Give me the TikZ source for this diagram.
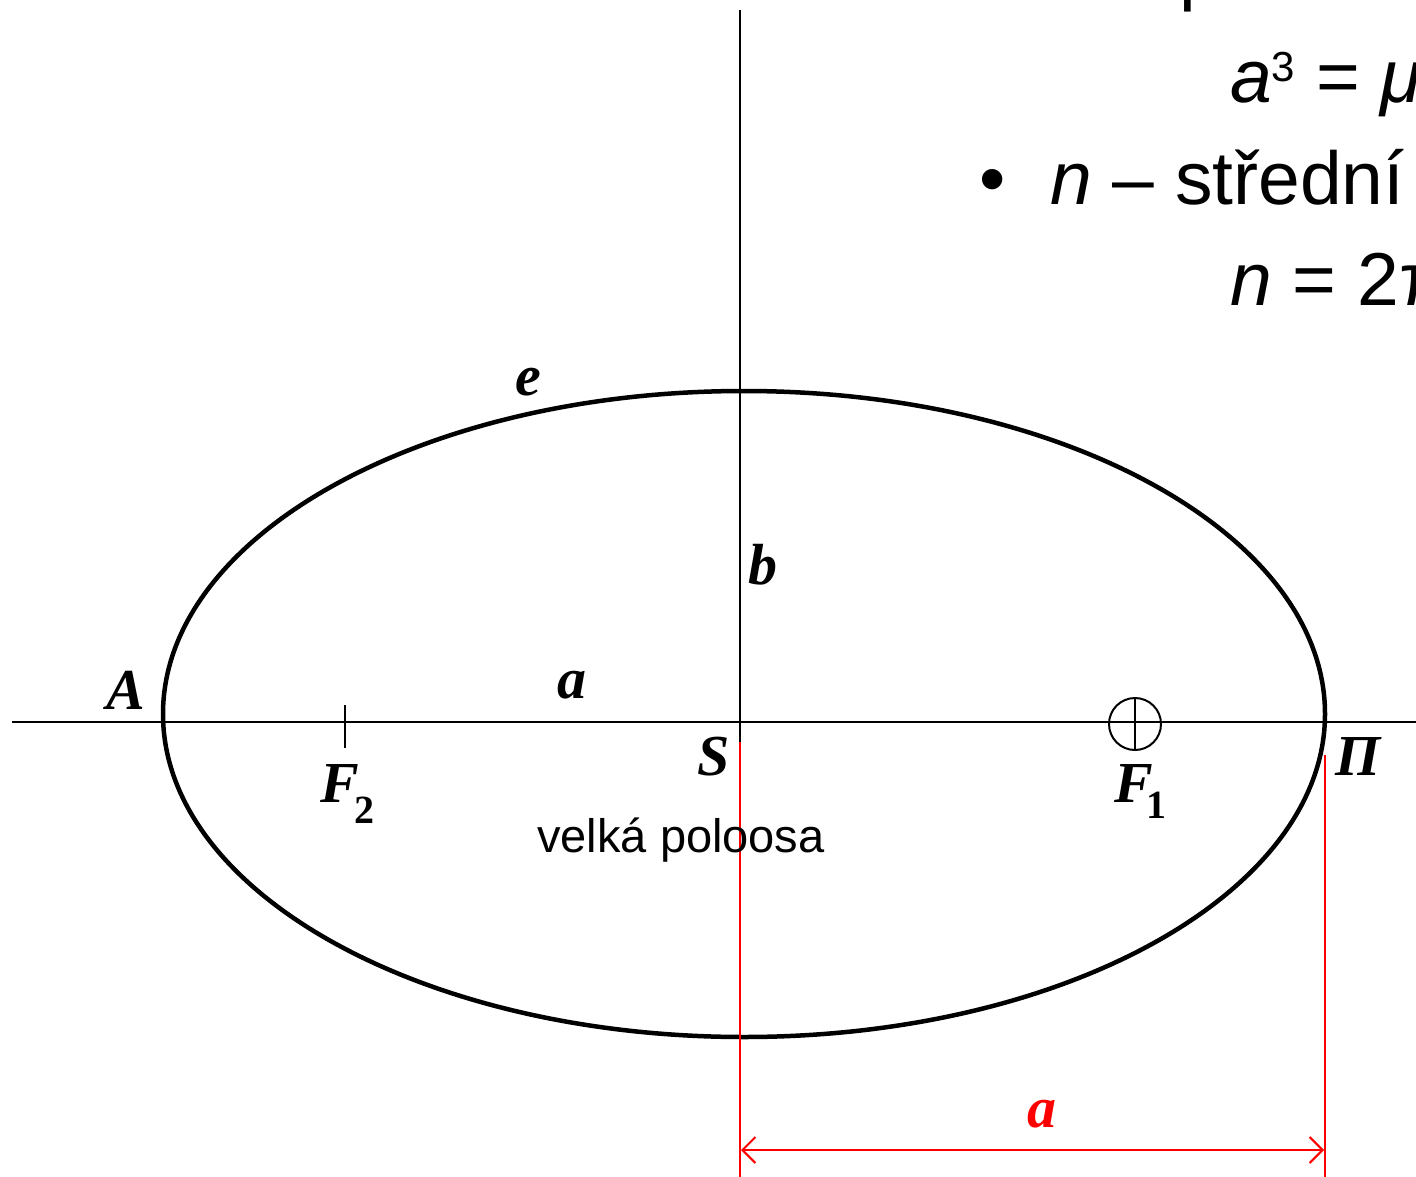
\documentclass[tikz,border=0pt]{standalone}
\usepackage{fontspec}
\setmainfont{Liberation Sans}
\newfontfamily\tnr{Liberation Serif}
\usetikzlibrary{arrows.meta}
\tikzset{
  axisline/.style={line width=2pt, black},
  orbit/.style={line width=4.5pt, black},
  redline/.style={line width=2pt, red},
  lbl/.style={inner sep=0pt, font=\tnr\bfseries\itshape\fontsize{58}{58}\selectfont},
  bigtxt/.style={inner sep=0pt, anchor=base west, font=\fontsize{75}{75}\selectfont},
}
\newcommand{\subdig}[2]{\raisebox{#1}{\upshape\fontsize{40}{40}\selectfont #2}}
\newcommand{\supdig}[1]{\raisebox{21pt}{\fontsize{42}{42}\selectfont #1}}
\begin{document}
\begin{tikzpicture}[x=1pt,y=-1pt]
\useasboundingbox (0,0) rectangle (1416,1177);
% axes
\coordinate (vtop) at (740,10);
\coordinate (vbot) at (740,742);
\coordinate (hleft) at (12,722);
\coordinate (hright) at (1416,722);
\draw[axisline] (vtop) -- (vbot);
\draw[axisline] (hleft) -- (hright);
% orbit
\coordinate (ctr) at (744,714);
\draw[orbit] (ctr) ellipse [x radius=581pt, y radius=323pt];
% foci
\coordinate (f2t) at (345,705);
\coordinate (f2b) at (345,748);
\draw[axisline] (f2t) -- (f2b);
\coordinate (f1c) at (1135,724);
\coordinate (f1t) at (1135,697);
\coordinate (f1b) at (1135,751);
\draw[axisline] (f1c) circle [radius=26pt];
\draw[axisline] (f1t) -- (f1b);
% red dimension
\coordinate (r1t) at (740,742);
\coordinate (r1b) at (740,1177);
\coordinate (r2t) at (1325,755);
\coordinate (r2b) at (1325,1177);
\coordinate (arl) at (741,1150);
\coordinate (arr) at (1324,1150);
\draw[redline] (r1t) -- (r1b);
\draw[redline] (r2t) -- (r2b);
\draw[redline, {Straight Barb[length=13pt,width=26pt]}-{Straight Barb[length=13pt,width=26pt]}] (arl) -- (arr);
\node[lbl, text=red] (ared) at (1042,1114) {a};
% labels
\node[lbl] (lA) at (126,690) {A};
\node[lbl] (le) at (528,382) {e};
\node[lbl] (lb) at (763,565) {b};
\node[lbl] (la) at (572,685) {a};
\node[lbl] (lS) at (714,757) {S};
\node[lbl, anchor=base west] (lF2) at (320,802) {F\kern-4pt\subdig{-21pt}{2}};
\node[lbl, anchor=base west] (lF1) at (1114,802) {F\kern-6pt\subdig{-16pt}{1}};
\node[lbl] (lP) at (1358,757) {Π};
\node[inner sep=0pt, font=\fontsize{47}{47}\selectfont] (vp) at (681,840) {velká poloosa};
% text on the right
\node[bigtxt] (t1) at (1050,-3) {T – perioda};
\node[bigtxt] (t2) at (1230,103) {\itshape a\upshape\supdig{3} = \itshape μ};
\node[bigtxt] (t3b) at (979,205) {•};
\node[bigtxt] (t3) at (1050,205) {\itshape n\upshape{} – střední};
\node[bigtxt] (t4) at (1230,305) {\itshape n\upshape{} = 2π};
\end{tikzpicture}
\end{document}
